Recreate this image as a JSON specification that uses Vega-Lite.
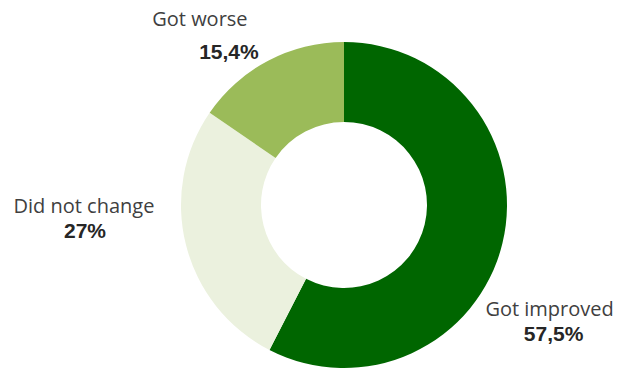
{
  "$schema": "https://vega.github.io/schema/vega-lite/v6.json",
  "width": 550,
  "height": 338,
  "autosize": {"type": "none"},
  "padding": {"left": 69, "top": 36, "right": 0, "bottom": 0},
  "background": "white",
  "view": {"stroke": null},
  "data": {
    "values": [
      {"category": "Got improved", "value": 57.5, "label": "57,5%", "ord": 1},
      {"category": "Did not change", "value": 27, "label": "27%", "ord": 2},
      {"category": "Got worse", "value": 15.4, "label": "15,4%", "ord": 3}
    ]
  },
  "encoding": {
    "theta": {"field": "value", "type": "quantitative", "stack": true},
    "order": {"field": "ord", "type": "quantitative"}
  },
  "layer": [
    {
      "mark": {"type": "arc", "outerRadius": 163, "innerRadius": 83},
      "encoding": {
        "color": {
          "field": "category",
          "type": "nominal",
          "scale": {"domain": ["Got improved", "Did not change", "Got worse"], "range": ["#006600", "#EBF1DE", "#9BBB59"]},
          "legend": null
        }
      }
    },
    {
      "mark": {"type": "text", "radius": 230, "dx": -18, "dy": 51, "font": "Open Sans", "fontSize": 20, "fill": "#404040"},
      "encoding": {"text": {"condition": {"test": "datum.category === 'Got improved'", "field": "category"}, "value": ""}}
    },
    {
      "mark": {"type": "text", "radius": 230, "dx": -14, "dy": 76, "font": "Liberation Sans", "fontWeight": "bold", "fontSize": 21, "fill": "#262626"},
      "encoding": {"text": {"condition": {"test": "datum.category === 'Got improved'", "field": "label"}, "value": ""}}
    },
    {
      "mark": {"type": "text", "radius": 230, "dx": -37, "dy": -54, "font": "Open Sans", "fontSize": 20, "fill": "#404040"},
      "encoding": {"text": {"condition": {"test": "datum.category === 'Did not change'", "field": "category"}, "value": ""}}
    },
    {
      "mark": {"type": "text", "radius": 230, "dx": -36, "dy": -29, "font": "Liberation Sans", "fontWeight": "bold", "fontSize": 21, "fill": "#262626"},
      "encoding": {"text": {"condition": {"test": "datum.category === 'Did not change'", "field": "label"}, "value": ""}}
    },
    {
      "mark": {"type": "text", "radius": 230, "dx": -37, "dy": 19, "font": "Open Sans", "fontSize": 20, "fill": "#404040"},
      "encoding": {"text": {"condition": {"test": "datum.category === 'Got worse'", "field": "category"}, "value": ""}}
    },
    {
      "mark": {"type": "text", "radius": 230, "dx": -8, "dy": 52, "font": "Liberation Sans", "fontWeight": "bold", "fontSize": 21, "fill": "#262626"},
      "encoding": {"text": {"condition": {"test": "datum.category === 'Got worse'", "field": "label"}, "value": ""}}
    }
  ]
}
